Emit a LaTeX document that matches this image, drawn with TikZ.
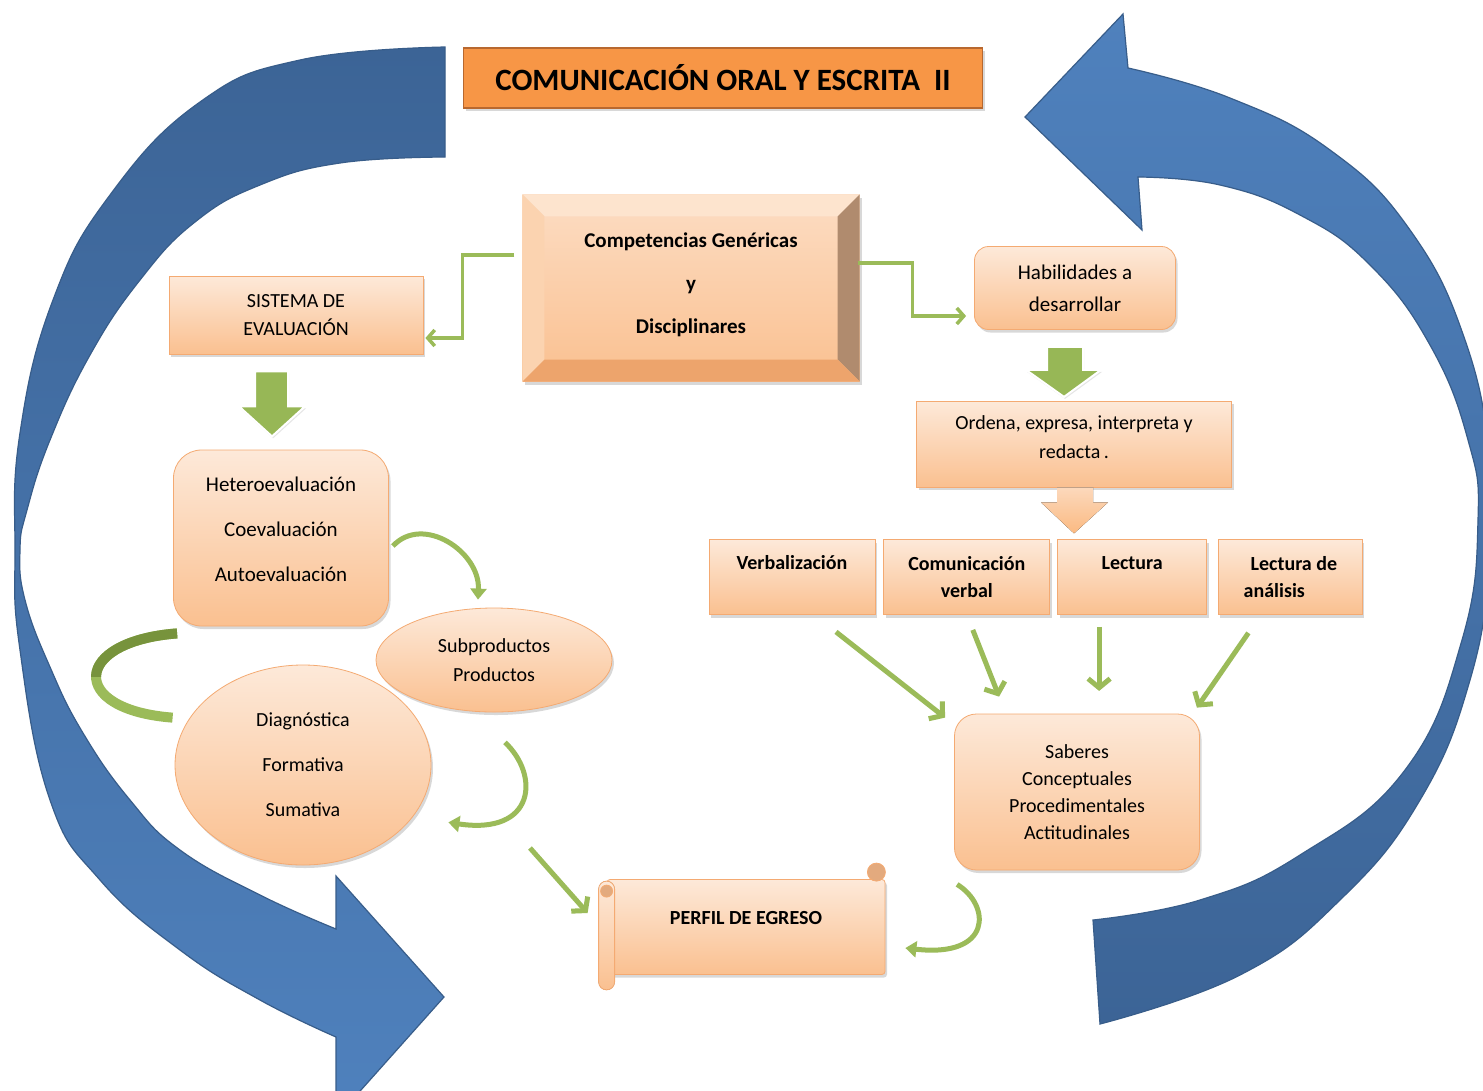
\documentclass[tikz,border=0pt]{standalone}
\usepackage{fontspec}
\setmainfont{Carlito}
\usetikzlibrary{arrows.meta, calc, positioning, shadows, shapes.geometric}
\definecolor{peachtop}{HTML}{FDE9D9}
\definecolor{peachbot}{HTML}{FAC090}
\definecolor{peachline}{HTML}{F4AA72}
\definecolor{titlefill}{HTML}{F79646}
\definecolor{titleline}{HTML}{B8682F}
\definecolor{leaf}{HTML}{9BBB59}
\definecolor{leafdark}{HTML}{77933C}
\definecolor{skyblue}{HTML}{4F81BD}
\definecolor{deepblue}{HTML}{3C6496}
\definecolor{blueline}{HTML}{385D8A}
\definecolor{bevellight}{HTML}{FDE4CE}
\definecolor{bevelside}{HTML}{FBD3B0}
\definecolor{beveldark}{HTML}{B08B6E}
\definecolor{bevelbottom}{HTML}{EDA46C}
\definecolor{rolltan}{HTML}{E3AA7E}
\tikzstyle{shade} = [drop shadow={opacity=0.3, shadow xshift=2pt, shadow yshift=-3pt}]
\tikzstyle{block} = [rectangle, draw=peachline, thick, top color=peachtop, bottom color=peachbot, align=center, font=\fontsize{20}{28}\selectfont, shade]
\tikzstyle{softbox} = [block, rounded corners=14pt]
\tikzstyle{ovalbox} = [block, ellipse]
\tikzstyle{skill} = [block, minimum height=75pt, font=\fontsize{20}{27}\selectfont\bfseries]
\tikzstyle{heading} = [rectangle, draw=titleline, line width=1.5pt, fill=titlefill, minimum width=519pt, minimum height=60pt, font=\fontsize{31}{36}\selectfont\bfseries, shade]
\tikzstyle{bevel} = [rectangle, minimum width=337pt, minimum height=187pt, top color=peachtop!70!peachbot, bottom color=peachbot, align=center, font=\fontsize{21}{43}\selectfont\bfseries, shade]
\tikzstyle{scrollbox} = [block, rounded corners=3pt, minimum width=278pt, minimum height=95pt, font=\fontsize{20}{24}\selectfont\bfseries]
\tikzstyle{link} = [draw=leaf, line width=3.5pt, -{Straight Barb[length=7pt, width=16pt]}]
\tikzstyle{push} = [draw=leaf, line width=5pt, -{Straight Barb[length=9pt, width=22pt]}]
\tikzstyle{curl} = [draw=leaf, line width=5pt, -{Triangle[length=11pt, width=16pt]}, preaction={draw=white, line width=9pt, -{Triangle[length=14pt, width=22pt]}}]
\tikzstyle{cshape} = [draw=leaf, line width=10pt, preaction={draw=white, line width=15pt}]
\tikzstyle{fatarrow} = [fill=leaf!90!leafdark, draw=white, line width=2pt, drop shadow={opacity=0.2, shadow xshift=1pt, shadow yshift=-2pt}]
\tikzstyle{sweep} = [draw=blueline, line width=1.2pt]

\begin{document}
\begin{tikzpicture}[x=1pt, y=-1pt]
    \fill[white] (0,0) rectangle (1483,1090);
    \useasboundingbox (0,0) rectangle (1483,1090);

    % Loop arrows.
    \path[sweep, top color=deepblue, bottom color=skyblue]
        plot[smooth, tension=0.75] coordinates {(445,47) (300,60) (200,102) (110,195) (53,300) (20,433) (15,550) (20,650) (50,800) (100,880) (180,950) (260,1000) (336,1037)}
        -- (336,1118) -- (444,997) -- (336,876)
        -- plot[smooth, tension=0.75] coordinates {(336,929) (260,895) (180,850) (130,800) (83,733) (50,667) (25,600) (20,550) (27,510) (50,440) (90,355) (140,280) (195,222) (260,185) (340,163) (445,157)}
        -- cycle;
    \path[sweep, top color=skyblue, bottom color=deepblue]
        plot[smooth, tension=0.75] coordinates {(1128,68) (1230,98) (1330,150) (1410,230) (1465,340) (1490,460) (1490,560) (1470,680) (1420,800) (1340,900) (1240,975) (1100,1024)}
        -- plot[smooth, tension=0.75] coordinates {(1093,920) (1200,900) (1300,855) (1405,770) (1462,640) (1478,520) (1468,440) (1430,345) (1370,265) (1300,215) (1220,185) (1138,177)}
        -- (1142,230) -- (1025,117) -- (1123,14) -- cycle;

    % Title.
    \node (title) [heading] at (723,78) {COMUNICACIÓN ORAL Y ESCRITA\ \ II};

    % Competencias.
    \node (comp) [bevel] at (691,288) {Competencias Genéricas\\y\\Disciplinares\rule[-10pt]{0pt}{0pt}};
    \fill[bevellight] (comp.north west) -- (comp.north east) -- ($(comp.north east)+(-22,22)$) -- ($(comp.north west)+(22,22)$) -- cycle;
    \fill[bevelside] (comp.north west) -- ($(comp.north west)+(22,22)$) -- ($(comp.south west)+(22,-22)$) -- (comp.south west) -- cycle;
    \fill[beveldark] (comp.north east) -- (comp.south east) -- ($(comp.south east)+(-22,-22)$) -- ($(comp.north east)+(-22,22)$) -- cycle;
    \fill[bevelbottom] (comp.south west) -- (comp.south east) -- ($(comp.south east)+(-22,-22)$) -- ($(comp.south west)+(22,-22)$) -- cycle;

    % Left side.
    \node (sist) [block, minimum width=254pt, minimum height=78pt] at (296,315) {SISTEMA DE\\EVALUACIÓN};
    \node (het) [softbox, rounded corners=28pt, minimum width=215pt, minimum height=176pt, font=\fontsize{21}{45}\selectfont] at (281,538) {Heteroevaluación\\Coevaluación\\Autoevaluación\rule[-18pt]{0pt}{0pt}};
    \node (subp) [ovalbox, minimum width=236pt, minimum height=104pt, font=\fontsize{20}{29}\selectfont] at (494,660) {Subproductos\\Productos};
    \node (diag) [ovalbox, minimum width=256pt, minimum height=200pt, font=\fontsize{20}{45}\selectfont] at (303,765) {Diagnóstica\\Formativa\\Sumativa};

    % Right side.
    \node (hab) [softbox, minimum width=201pt, minimum height=83pt, font=\fontsize{21}{32}\selectfont] at (1075,288) {Habilidades a\\desarrollar};
    \node (ord) [block, minimum width=315pt, minimum height=86pt, font=\fontsize{20}{29}\selectfont] at (1074,444) {Ordena, expresa, interpreta y\\redacta\,.\rule[-13pt]{0pt}{0pt}};
    \node (verb) [skill, minimum width=166pt] at (792,577) {Verbalización\rule[-30pt]{0pt}{0pt}};
    \node (com) [skill, minimum width=166pt, right=8pt of verb] {Comunicación\\verbal};
    \node (lect) [skill, minimum width=149pt, right=7pt of com] {Lectura\rule[-28pt]{0pt}{0pt}};
    \node (anal) [skill, minimum width=144pt, align=left, right=11pt of lect] {\hspace*{7pt}Lectura de\\análisis};
    \node (sab) [softbox, rounded corners=22pt, minimum width=245pt, minimum height=156pt, font=\fontsize{20}{27}\selectfont] at (1077,792) {Saberes\\Conceptuales\\Procedimentales\\Actitudinales};

    % Perfil.
    \node (perf) [scrollbox] at (746,927) {PERFIL DE EGRESO\rule[-18pt]{0pt}{0pt}};
    \filldraw[draw=peachline, thick, top color=peachtop, bottom color=peachbot, rounded corners=8pt] ($(perf.north west)+(-8,2)$) rectangle ($(perf.south west)+(8,15)$);
    \filldraw[draw=peachline, thick, fill=rolltan] ($(perf.north west)+(0,12)$) circle (6pt);
    \filldraw[draw=peachline, thick, fill=rolltan] ($(perf.north east)+(-9,-7)$) circle (9pt);

    % Block arrows.
    \begin{scope}[shift={(sist.south)}]
        \draw[fatarrow] (-41,17) -- (-8,17) -- (-8,52) -- (9,52) -- (-24,82) -- (-57,52) -- (-41,52) -- cycle;
    \end{scope}
    \begin{scope}[shift={(hab.south)}]
        \draw[fatarrow] (-28,17) -- (8,17) -- (8,40) -- (26,40) -- (-11,67) -- (-49,40) -- (-28,40) -- cycle;
    \end{scope}
    \begin{scope}[shift={(ord.south)}]
        \fill[top color=peachtop!60!peachbot, bottom color=peachbot!90!orange] (-17,0) -- (19,0) -- (19,15) -- (34,15) -- (0,46) -- (-33,15) -- (-17,15) -- cycle;
    \end{scope}

    % Arrows.
    \draw[link] ($(comp.west)+(-8,-33)$) -- ++(-52,0) |- ($(sist.east)+(2,23)$);
    \draw[link] ($(comp.east)+(-2,-25)$) -- ++(55,0) |- ($(hab.west)+(-8,28)$);

    \draw[push] ($(verb.south)+(44,17)$) -- ($(sab.north west)+(-9,4)$);
    \draw[push] ($(com.south)+(6,15)$) -- ($(sab.north west)+(45,-17)$);
    \draw[push] ($(lect.south)+(-33,12)$) -- ($(lect.south)+(-33,76)$);
    \draw[push] ($(anal.south)+(-42,18)$) -- ($(sab.north east)+(-3,-6)$);
    \coordinate (egr) at (530,848);
    \draw[push] (egr) -- ($(perf.west)+(-19,-14)$);

    \draw[curl] ($(het.east)+(4,8)$) .. controls +(30,-32) and +(2,-48) .. ($(subp.north)+(-16,-8)$);
    \draw[cshape] ($(het.south west)+(4,7)$) .. controls +(-105,8) and +(-105,-8) .. ($(diag.160)+(-14,-5)$);
    \begin{scope}
        \clip (0,560) rectangle (300,676);
        \draw[draw=leafdark, line width=10pt] ($(het.south west)+(4,7)$) .. controls +(-105,8) and +(-105,-8) .. ($(diag.160)+(-14,-5)$);
    \end{scope}
    \draw[curl] ($(subp.south)+(11,30)$) .. controls +(35,33) and +(87,13) .. ($(diag.-20)+(29,15)$);
    \draw[curl] ($(sab.south west)+(3,14)$) .. controls +(34,21) and +(87,10) .. ($(perf.east)+(20,21)$);
\end{tikzpicture}
\end{document}
